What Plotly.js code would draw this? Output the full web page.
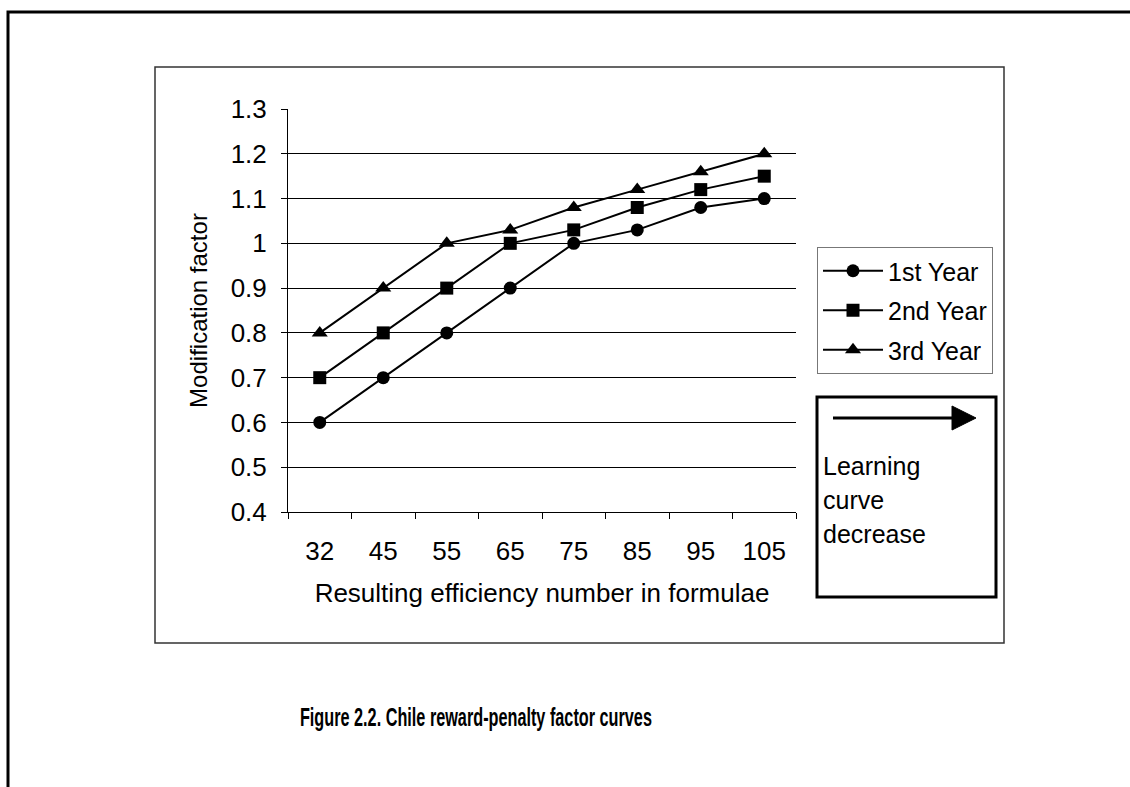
<!DOCTYPE html>
<html>
<head>
<meta charset="utf-8">
<script src="https://cdn.plot.ly/plotly-3.0.1.min.js"></script>
<style>
  html, body { margin: 0; padding: 0; background: #fff; }
  #chart { width: 1130px; height: 787px; }
</style>
</head>
<body>
<div id="chart"></div>
<script>
// ---- data ----
const categories = ['32', '45', '55', '65', '75', '85', '95', '105'];
const year1 = [0.6, 0.7, 0.8, 0.9, 1.0, 1.03, 1.08, 1.1];
const year2 = [0.7, 0.8, 0.9, 1.0, 1.03, 1.08, 1.12, 1.15];
const year3 = [0.8, 0.9, 1.0, 1.03, 1.08, 1.12, 1.16, 1.2];
const seriesNames = ['1st Year', '2nd Year', '3rd Year'];
const noteLines = ['Learning', 'curve', 'decrease'];
const xTitle = 'Resulting efficiency number in formulae';
const yTitle = 'Modification factor';
const caption = 'Figure 2.2. Chile reward-penalty factor curves';

// ---- page geometry (pixels) ----
const W = 1130, H = 787;
const PL = 288, PR = 796, PT = 109, PB = 512;
const px = x => (x - PL) / (PR - PL);
const py = y => (PB - y) / (PB - PT);

const FONT = 'Liberation Sans, Arial, sans-serif';
const symbols = ['circle', 'square', 'triangle-up'];
const values = [year1, year2, year3];

const traces = values.map((v, i) => ({
  type: 'scatter',
  mode: 'lines+markers',
  x: categories,
  y: v,
  name: seriesNames[i],
  legendgroup: 'g' + i,
  line: { color: '#000', width: 2 },
  marker: { symbol: symbols[i], size: i === 2 ? 14 : 13, color: '#000' },
  cliponaxis: false
}));

const shapes = [
  { type: 'path', xref: 'paper', yref: 'paper',
    path: `M ${px(8)},${py(787)} L ${px(8)},${py(12)} L ${px(1130)},${py(12)}`,
    line: { color: '#000', width: 3 } },
  { type: 'rect', xref: 'paper', yref: 'paper',
    x0: px(155), x1: px(1004), y0: py(67), y1: py(643),
    line: { color: '#333', width: 1.5 } },
  { type: 'rect', xref: 'paper', yref: 'paper',
    x0: px(817), x1: px(996), y0: py(397), y1: py(597),
    line: { color: '#000', width: 3 } },
  { type: 'line', xref: 'paper', yref: 'paper',
    x0: px(833), x1: px(954), y0: py(418), y1: py(418),
    line: { color: '#000', width: 3 } },
  { type: 'path', xref: 'paper', yref: 'paper',
    path: `M ${px(952)},${py(406)} L ${px(976)},${py(418)} L ${px(952)},${py(430)} Z`,
    fillcolor: '#000', line: { color: '#000', width: 1 } }
];

const annotations = noteLines.map((t, i) => ({
  text: t, xref: 'paper', yref: 'paper',
  x: px(821), y: py(466 + i * 34), xanchor: 'left', yanchor: 'middle',
  showarrow: false, font: { family: FONT, size: 25, color: '#000' }
}));
annotations.push({
  text: '<b>' + caption + '</b>', xref: 'paper', yref: 'paper',
  x: px(476), y: py(717), xanchor: 'center', yanchor: 'middle',
  showarrow: false,
  font: { family: FONT, size: 25, color: '#000' }
});

const layout = {
  width: W, height: H,
  margin: { l: PL, r: W - PR, t: PT, b: H - PB, pad: 0 },
  paper_bgcolor: '#fff', plot_bgcolor: '#fff',
  font: { family: FONT, color: '#000', size: 25 },
  showlegend: true,
  legend: {
    x: px(817), y: py(247), xanchor: 'left', yanchor: 'top',
    bgcolor: '#fff', bordercolor: '#777', borderwidth: 1,
    font: { family: FONT, size: 25, color: '#000' },
    traceorder: 'grouped', tracegroupgap: 4, itemwidth: 60
  },
  xaxis: {
    type: 'category', categoryorder: 'array', categoryarray: categories,
    range: [-0.5, categories.length - 0.5],
    tickson: 'boundaries', ticks: 'outside', ticklen: 6, tickcolor: '#000', tickwidth: 1,
    showline: true, linecolor: '#000', linewidth: 1, showgrid: false, zeroline: false,
    tickfont: { family: FONT, size: 26, color: '#000' },
    ticklabelstandoff: 16,
    title: { text: xTitle, font: { family: FONT, size: 26, color: '#000' }, standoff: 18 }
  },
  yaxis: {
    range: [0.4, 1.3], dtick: 0.1, tick0: 0.4,
    ticks: 'outside', ticklen: 6, tickcolor: '#000', tickwidth: 1,
    showline: true, linecolor: '#000', linewidth: 1,
    showgrid: true, gridcolor: '#000', gridwidth: 1, zeroline: false,
    tickfont: { family: FONT, size: 26, color: '#000' },
    ticklabelstandoff: 9,
    title: { text: yTitle, font: { family: FONT, size: 24, color: '#000' }, standoff: 16 }
  },
  shapes: shapes,
  annotations: annotations
};

Plotly.newPlot('chart', traces, layout, { displayModeBar: false, staticPlot: true }).then(() => {
  // narrow the bold caption to the condensed width of the original typeface
  document.querySelectorAll('.annotation-text').forEach(el => {
    if (el.textContent === caption) {
      el.setAttribute('textLength', '352');
      el.setAttribute('lengthAdjust', 'spacingAndGlyphs');
    }
  });
});
</script>
</body>
</html>
